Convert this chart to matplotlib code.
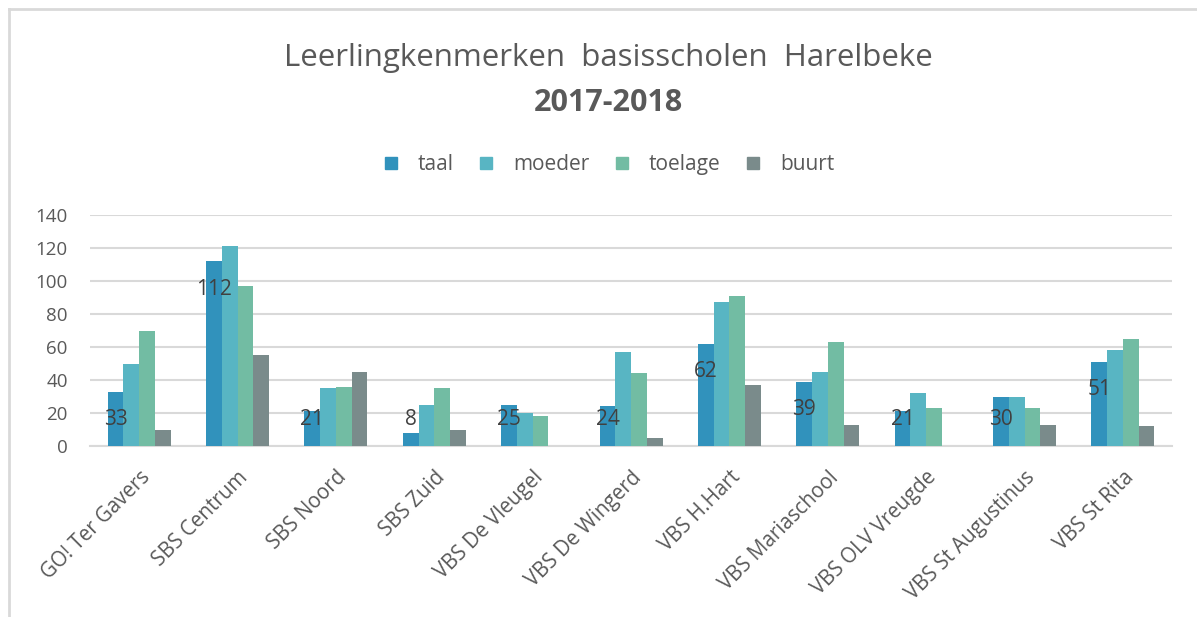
import numpy as np
import matplotlib
matplotlib.use("Agg")
import matplotlib.pyplot as plt
from matplotlib.lines import Line2D

# schools and series values
schools = ["GO! Ter Gavers", "SBS Centrum", "SBS Noord", "SBS Zuid",
           "VBS De Vleugel", "VBS De Wingerd", "VBS H.Hart",
           "VBS Mariaschool", "VBS OLV Vreugde", "VBS St Augustinus",
           "VBS St Rita"]
taal = [33, 112, 21, 8, 25, 24, 62, 39, 21, 30, 51]
moeder = [50, 121, 35, 25, 20, 57, 87, 45, 32, 30, 58]
toelage = [70, 97, 36, 35, 18, 44, 91, 63, 23, 23, 65]
buurt = [10, 55, 45, 10, 0, 5, 37, 13, 0, 13, 12]

series_names = ["taal", "moeder", "toelage", "buurt"]
colors = ["#3192bc", "#58b5c3", "#72bca3", "#7a8b8b"]
text_grey = "#595959"
grid_grey = "#d9d9d9"

plt.rcParams['font.family'] = ['Open Sans', 'DejaVu Sans']

fig = plt.figure(figsize=(11.97, 6.17), dpi=100)
ax = fig.add_axes([0.0752, 0.2771, 0.904, 0.3744])

x = np.arange(len(schools))
w = 0.16
for i, (vals, c) in enumerate(zip([taal, moeder, toelage, buurt], colors)):
    ax.bar(x + (i - 1.5) * w, vals, width=w, color=c, zorder=3)

# data labels only on the first series
for xi, v in zip(x, taal):
    ax.text(xi - 1.5 * w, max(v - 17, 16), str(v), ha='center', va='center',
            fontsize=15, color="#404040", zorder=4)

ax.set_xlim(-0.5, len(schools) - 0.5)
ax.set_ylim(0, 140)
ax.set_yticks(range(0, 141, 20))
ax.yaxis.grid(True, color=grid_grey, linewidth=1.5, zorder=0)
ax.set_axisbelow(True)
for s in ["top", "right", "left"]:
    ax.spines[s].set_visible(False)
ax.spines["bottom"].set_color(grid_grey)
ax.spines["bottom"].set_linewidth(1.5)
ax.tick_params(length=0, labelcolor=text_grey)
ax.tick_params(axis='y', labelsize=13.5, pad=16)
ax.tick_params(axis='x', pad=15)
ax.set_xticks(x)
ax.set_xticklabels(schools, rotation=45, ha='right', rotation_mode='anchor',
                   fontsize=14.8)

fig.text(0.508, 0.906, "Leerlingkenmerken  basisscholen  Harelbeke",
         ha='center', va='center', fontsize=22.5, color=text_grey)
fig.text(0.508, 0.833, "2017-2018", ha='center', va='center', fontsize=22,
         fontweight='bold', color=text_grey)

handles = [Line2D([], [], marker='s', linestyle='none', markersize=8.5,
                  color=c) for c in colors]
leg = fig.legend(handles, series_names, loc='center', ncol=4,
                 bbox_to_anchor=(0.509, 0.733), frameon=False, fontsize=15,
                 handlelength=0.6, columnspacing=1.25, handletextpad=1.0)
for t in leg.get_texts():
    t.set_color(text_grey)

# chart border (left and top edges visible)
fig.add_artist(Line2D([0.0075, 0.0075], [0, 0.986], transform=fig.transFigure,
                      color=grid_grey, linewidth=2))
fig.add_artist(Line2D([0.0075, 1], [0.986, 0.986], transform=fig.transFigure,
                      color=grid_grey, linewidth=2))

fig.savefig("out.png", dpi=100)
